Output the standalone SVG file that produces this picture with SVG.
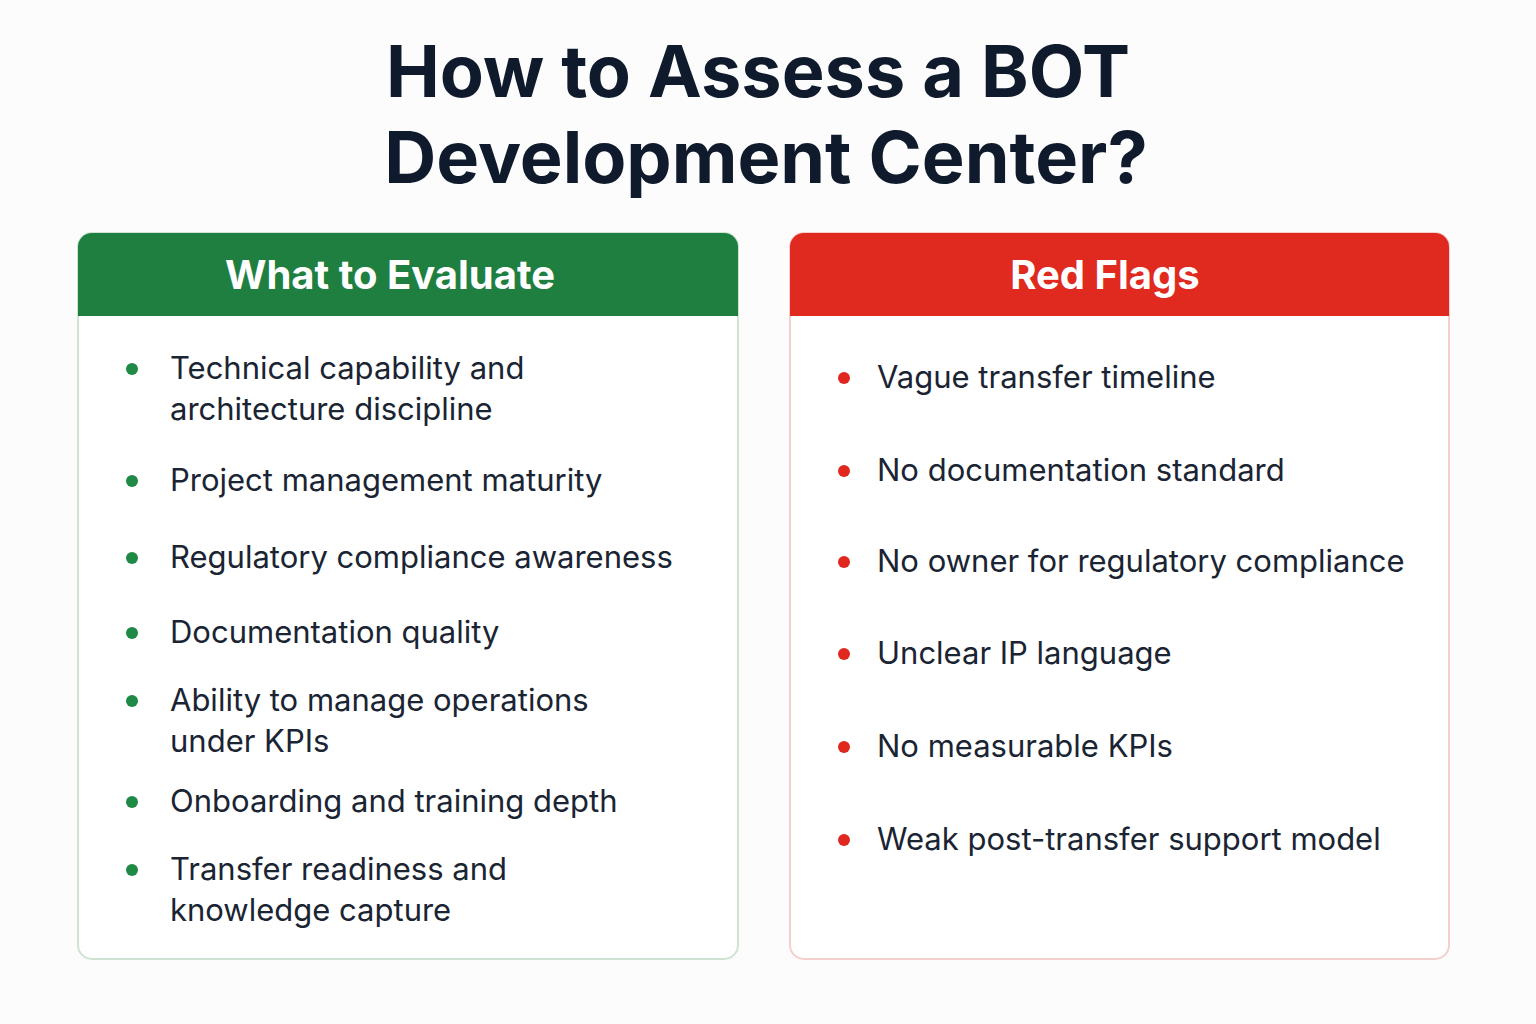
<svg xmlns="http://www.w3.org/2000/svg" width="1536" height="1024" viewBox="0 0 1536 1024">
<style>
.t{font-family:Inter,"Liberation Sans",sans-serif;font-weight:700;fill:#0f1b2d;font-size:72px;text-anchor:middle}
.h{font-family:Inter,"Liberation Sans",sans-serif;font-weight:700;fill:#fff;font-size:40px;text-anchor:middle}
.i{font-family:Inter,"Liberation Sans",sans-serif;fill:#1a2433;font-size:31px}
.g{fill:#1f8a45}.r{fill:#e0281e}
</style>
<rect width="1536" height="1024" fill="#fcfcfc"/>
<text class="t" x="758" y="97">How to Assess a BOT</text>
<text class="t" x="766" y="183">Development Center?</text>
<g id="evaluate">
<rect x="78" y="233" width="660" height="726" rx="14" fill="#fff" stroke="#cfe3d3" stroke-width="2"/>
<path d="M92 233H724A14 14 0 0 1 738 247V316H78V247A14 14 0 0 1 92 233Z" fill="#1f7f40"/>
<text class="h" x="390" y="289">What to Evaluate</text>
<g class="g"><circle cx="132" cy="369" r="6"/><circle cx="132" cy="481" r="6"/><circle cx="132" cy="558" r="6"/><circle cx="132" cy="633" r="6"/><circle cx="132" cy="701" r="6"/><circle cx="132" cy="802" r="6"/><circle cx="132" cy="870" r="6"/></g>
<text class="i" x="170" y="379">Technical capability and</text>
<text class="i" x="170" y="420">architecture discipline</text>
<text class="i" x="170" y="491">Project management maturity</text>
<text class="i" x="170" y="568">Regulatory compliance awareness</text>
<text class="i" x="170" y="643">Documentation quality</text>
<text class="i" x="170" y="711">Ability to manage operations</text>
<text class="i" x="170" y="752">under KPIs</text>
<text class="i" x="170" y="812">Onboarding and training depth</text>
<text class="i" x="170" y="880">Transfer readiness and</text>
<text class="i" x="170" y="921">knowledge capture</text>
</g>
<g id="redflags">
<rect x="790" y="233" width="659" height="726" rx="14" fill="#fff" stroke="#f3d0cd" stroke-width="2"/>
<path d="M804 233H1435A14 14 0 0 1 1449 247V316H790V247A14 14 0 0 1 804 233Z" fill="#e0291f"/>
<text class="h" x="1105" y="289">Red Flags</text>
<g class="r"><circle cx="844" cy="378" r="6"/><circle cx="844" cy="471" r="6"/><circle cx="844" cy="562" r="6"/><circle cx="844" cy="654" r="6"/><circle cx="844" cy="747" r="6"/><circle cx="844" cy="840" r="6"/></g>
<text class="i" x="877" y="388">Vague transfer timeline</text>
<text class="i" x="877" y="481">No documentation standard</text>
<text class="i" x="877" y="572">No owner for regulatory compliance</text>
<text class="i" x="877" y="664">Unclear IP language</text>
<text class="i" x="877" y="757">No measurable KPIs</text>
<text class="i" x="877" y="850">Weak post-transfer support model</text>
</g>
</svg>
